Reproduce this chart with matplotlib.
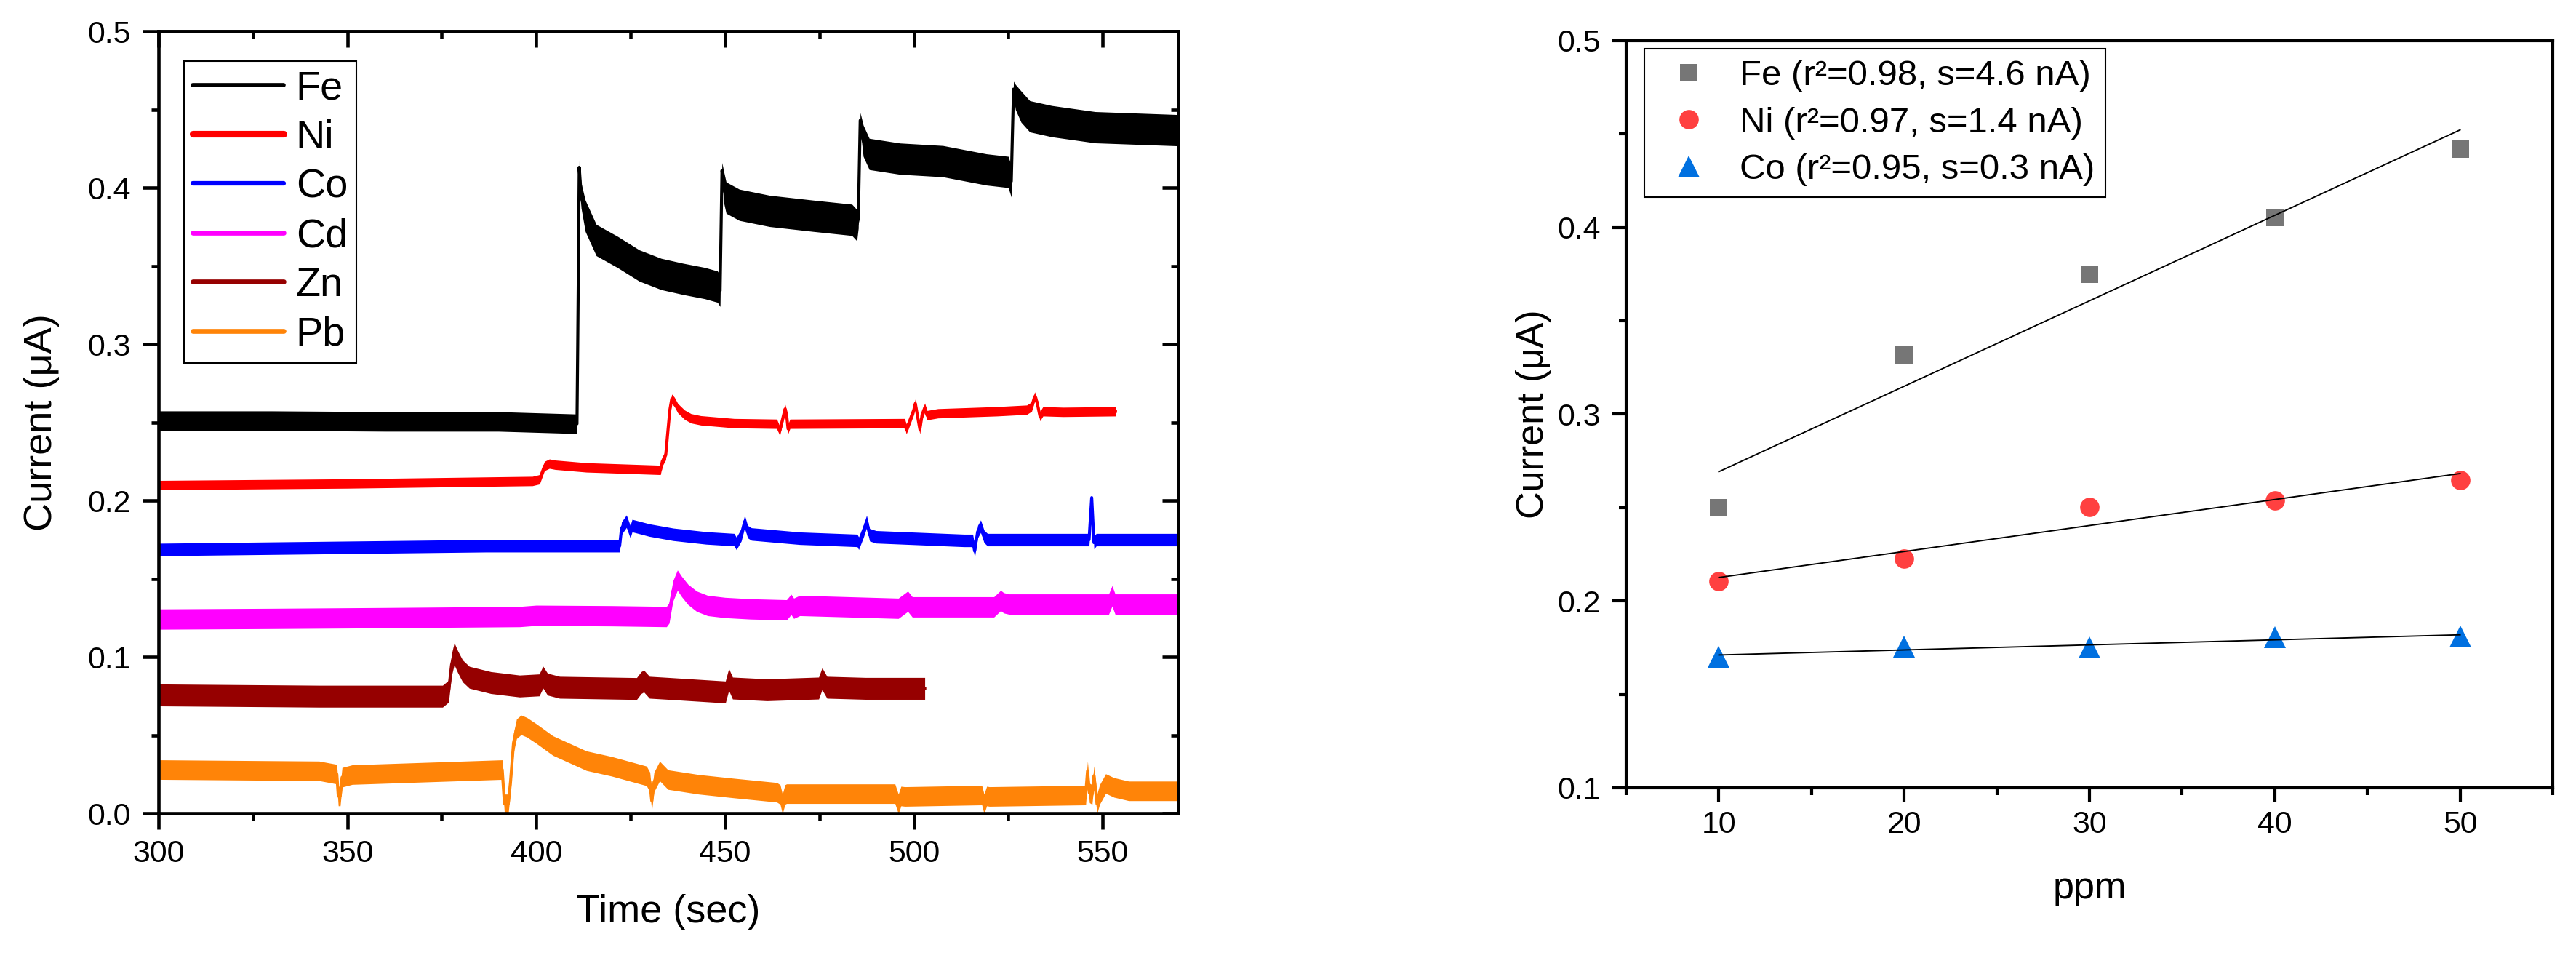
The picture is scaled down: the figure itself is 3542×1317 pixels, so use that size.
import numpy as np
import matplotlib
matplotlib.use('Agg')
import matplotlib.pyplot as plt
from matplotlib.lines import Line2D
from matplotlib.ticker import MultipleLocator, FormatStrFormatter

plt.rcParams['font.family'] = ['Liberation Sans', 'DejaVu Sans']

# ---------------- left panel: current vs time (key points) ----------------
fe_t = [300, 330, 360, 390, 410.8, 411.0, 411.4, 411.9, 413.0, 415.9, 421.6, 427.3, 433.1, 438.8,
        444.6, 448.0, 448.7, 449.2, 449.7, 450.3, 453.8, 461.8, 473.3, 483.6, 484.9, 485.3, 485.8,
        486.6, 488.2, 496.3, 507.7, 519.2, 525.0, 525.8, 526.4, 526.9, 528.4, 530.7, 536.5, 548, 570]
fe_v = [0.251, 0.251, 0.2505, 0.2505, 0.249, 0.30, 0.413, 0.395, 0.382, 0.3665, 0.3588, 0.3502,
        0.3448, 0.3417, 0.339, 0.3367, 0.334, 0.411, 0.40, 0.3936, 0.389, 0.3851, 0.382, 0.3794,
        0.376, 0.380, 0.443, 0.430, 0.4215, 0.4185, 0.4169, 0.4116, 0.410, 0.404, 0.463, 0.458,
        0.4518, 0.4456, 0.4425, 0.4386, 0.4367]
fe_noise = [0.0125, 0.0125, 0.0125, 0.0125, 0.0125, 0.010, 0.008, 0.016, 0.02, 0.02, 0.02, 0.02,
            0.02, 0.02, 0.02, 0.02, 0.02, 0.010, 0.02, 0.02, 0.02, 0.02, 0.02, 0.02,
            0.02, 0.012, 0.010, 0.02, 0.02, 0.02, 0.02, 0.02, 0.02, 0.02, 0.010, 0.016,
            0.02, 0.02, 0.02, 0.02, 0.02]

ni_t = [300, 350, 399, 400.9, 402.2, 403.5, 405, 413.3, 432.9, 433.4, 434.3, 434.9, 435.4, 435.9,
        436.6, 437.5, 439.3, 441, 443.6, 452.4, 463.7, 464.5, 465.3, 465.9, 466.3, 466.7, 467.2,
        497.6, 498.0, 498.6, 500.0, 500.4, 500.9, 501.6, 502.2, 502.9, 503.5, 506.4, 522, 529.9,
        531.2, 532.0, 532.6, 533.4, 534.2, 539.5, 553.4]
ni_v = [0.2098, 0.2108, 0.2124, 0.2135, 0.222, 0.2235, 0.2228, 0.2211, 0.2195, 0.225, 0.229, 0.245,
        0.258, 0.265, 0.263, 0.259, 0.2548, 0.2525, 0.2512, 0.2494, 0.249, 0.2445, 0.2525, 0.2585,
        0.255, 0.2458, 0.249, 0.2494, 0.2455, 0.249, 0.258, 0.262, 0.255, 0.2455, 0.255, 0.2593,
        0.2545, 0.2557, 0.257, 0.258, 0.260, 0.2664, 0.263, 0.2539, 0.257, 0.2566, 0.257]
ni_noise = 0.006

co_t = [300, 386.7, 422.1, 422.6, 423.9, 424.9, 425.4, 430, 436.3, 445, 452.4, 453.0, 454.3, 455.2,
        456.0, 457, 469.8, 485.0, 485.4, 486.6, 487.5, 488.3, 490, 513.3, 515.6, 516.1, 516.9,
        517.7, 518.6, 519.5, 546.4, 547.1, 547.7, 548.3, 570]
co_v = [0.1686, 0.171, 0.171, 0.1823, 0.1867, 0.180, 0.1839, 0.181, 0.1783, 0.176, 0.1749, 0.1725,
        0.178, 0.1865, 0.180, 0.1785, 0.1758, 0.1744, 0.1726, 0.180, 0.1865, 0.178, 0.1767, 0.1744,
        0.1744, 0.1676, 0.180, 0.1835, 0.177, 0.1749, 0.1749, 0.2018, 0.173, 0.1749, 0.1749]
co_noise = 0.008

cd_t = [300, 330, 360, 395.6, 400, 420, 434.5, 435.2, 436.2, 437.4, 438.5, 440.2, 442.5, 445.4,
        450, 456.7, 466.3, 467.5, 468.2, 469.8, 495.9, 498.4, 499.6, 521.2, 523.0, 523.8, 525.2,
        551.6, 552.5, 553.3, 570]
cd_v = [0.1241, 0.1245, 0.125, 0.1257, 0.1265, 0.1262, 0.1257, 0.128, 0.142, 0.149, 0.145, 0.1399,
        0.1355, 0.1328, 0.1315, 0.1306, 0.130, 0.1335, 0.131, 0.1328, 0.131, 0.1355, 0.1319,
        0.1319, 0.136, 0.1345, 0.1337, 0.1337, 0.139, 0.1337, 0.1337]
cd_noise = 0.013

zn_t = [300, 342.5, 375.2, 376.8, 377.6, 378.3, 379.2, 380.5, 382.3, 388, 395.6, 400.8, 401.8, 403,
        406.2, 426.6, 427.8, 428.5, 430, 434.9, 450.1, 451.0, 452, 461.1, 474.8, 475.7, 477,
        487.2, 502.9]
zn_v = [0.0756, 0.0748, 0.0748, 0.078, 0.095, 0.102, 0.097, 0.091, 0.0869, 0.0835, 0.0813, 0.082,
        0.087, 0.0825, 0.0805, 0.0797, 0.0835, 0.0845, 0.0805, 0.0798, 0.0775, 0.0855, 0.0800,
        0.0789, 0.0800, 0.086, 0.0805, 0.0798, 0.0798]
zn_noise = 0.014

pb_t = [300, 342.5, 347.2, 347.6, 348.1, 348.6, 351.3, 391.0, 391.6, 392.6, 393.2, 394.0, 394.8,
        396.0, 397.5, 400, 404.4, 413.3, 420, 429.2, 430.1, 430.6, 431.2, 432.7, 434.9, 443, 452.4,
        463.7, 464.6, 465.2, 465.9, 466.3, 495.0, 495.9, 496.6, 497.6, 518.0, 518.6, 519.3, 520.0,
        545.5, 546.0, 546.5, 547.2, 547.7, 548.2, 548.5, 549.2, 550.8, 553, 556.9, 570]
pb_v = [0.0279, 0.0271, 0.025, 0.011, 0.011, 0.023, 0.0247, 0.0279, 0.006, 0.006, 0.02, 0.045,
        0.054, 0.0565, 0.055, 0.051, 0.0433, 0.0336, 0.030, 0.0239, 0.020, 0.008, 0.020, 0.027,
        0.0215, 0.0185, 0.0161, 0.0134, 0.012, 0.006, 0.012, 0.0125, 0.0125, 0.006, 0.011, 0.0107,
        0.0116, 0.006, 0.011, 0.0107, 0.0116, 0.027, 0.013, 0.012, 0.024, 0.013, 0.006, 0.012,
        0.019, 0.0165, 0.0143, 0.0143]
pb_noise = 0.0125

trace_names = ['Fe', 'Ni', 'Co', 'Cd', 'Zn', 'Pb']
trace_colors = ['#000000', '#FF0000', '#0000FF', '#FF00FF', '#960000', '#FF8408']

# ---------------- right panel: calibration ----------------
ppm = [10, 20, 30, 40, 50]
fe_cal = [0.2498, 0.3319, 0.3748, 0.4054, 0.4418]
ni_cal = [0.2106, 0.2226, 0.2505, 0.2538, 0.2646]
co_cal = [0.1702, 0.1754, 0.1751, 0.1808, 0.1810]
cal_labels = ['Fe (r\u00b2=0.98, s=4.6 nA)', 'Ni (r\u00b2=0.97, s=1.4 nA)', 'Co (r\u00b2=0.95, s=0.3 nA)']
cal_colors = ['#767676', '#FF4040', '#0070E0']
cal_markers = ['s', 'o', '^']
cal_msize = [5.8, 6.4, 7.3]

fig = plt.figure(figsize=(3542 / 300, 1317 / 300), dpi=300)
ax1 = fig.add_axes([0.06155, 0.1511, 0.39582, 0.81625])
ax2 = fig.add_axes([0.63128, 0.17768, 0.35969, 0.7798])

series = [(fe_t, fe_v, fe_noise), (ni_t, ni_v, ni_noise), (co_t, co_v, co_noise),
          (cd_t, cd_v, cd_noise), (zn_t, zn_v, zn_noise), (pb_t, pb_v, pb_noise)]
for (t, v, n), c in zip(series, trace_colors):
    t = np.asarray(t, float)
    v = np.asarray(v, float)
    n = np.asarray(n, float)
    ax1.fill_between(t, v - n / 2, v + n / 2, color=c, lw=0, zorder=2)
    ax1.plot(t, v, color=c, lw=1.0, solid_joinstyle='round', zorder=2)

ax1.set_xlim(300, 570)
ax1.set_ylim(0, 0.5)
ax1.xaxis.set_major_locator(MultipleLocator(50))
ax1.xaxis.set_minor_locator(MultipleLocator(25))
ax1.yaxis.set_major_locator(MultipleLocator(0.1))
ax1.yaxis.set_minor_locator(MultipleLocator(0.05))
ax1.yaxis.set_major_formatter(FormatStrFormatter('%.1f'))
ax1.tick_params(which='both', direction='out', width=1.1, labelsize=10.3)
ax1.tick_params(which='major', length=5.3)
ax1.tick_params(which='minor', length=2.4)
ax1.tick_params(axis='x', pad=3.4)
ax1.tick_params(axis='y', pad=3.8)
for s in ax1.spines.values():
    s.set_linewidth(1.1)

secx = ax1.secondary_xaxis('top')
secx.xaxis.set_major_locator(MultipleLocator(50))
secx.xaxis.set_minor_locator(MultipleLocator(25))
secx.tick_params(which='both', direction='in', width=1.1, labeltop=False)
secx.tick_params(which='major', length=5.3)
secx.tick_params(which='minor', length=2.4)
secx.spines['top'].set_linewidth(1.1)
secy = ax1.secondary_yaxis('right')
secy.yaxis.set_major_locator(MultipleLocator(0.1))
secy.yaxis.set_minor_locator(MultipleLocator(0.05))
secy.tick_params(which='both', direction='in', width=1.1, labelright=False)
secy.tick_params(which='major', length=5.3)
secy.tick_params(which='minor', length=2.4)
secy.spines['right'].set_linewidth(1.1)

ax1.set_xlabel('Time (sec)', fontsize=13)
ax1.set_ylabel('Current (\u03bcA)', fontsize=13)
ax1.xaxis.set_label_coords(0.5, -0.103)
ax1.yaxis.set_label_coords(-0.097, 0.5)

leg_lw = [1.36, 2.2, 1.5, 1.6, 1.6, 1.6]
handles1 = [Line2D([], [], color=c, lw=w, solid_capstyle='round') for c, w in zip(trace_colors, leg_lw)]
leg1 = ax1.legend(handles1, trace_names, loc='upper left', bbox_to_anchor=(0.0247, 0.9619),
                  borderaxespad=0, fontsize=13.4, handlelength=2.24, handletextpad=0.30,
                  borderpad=0.22, labelspacing=0.28, fancybox=False, edgecolor='black',
                  framealpha=1)
leg1.get_frame().set_linewidth(0.5)

# right panel
for y, c, m, ms in zip([fe_cal, ni_cal, co_cal], cal_colors, cal_markers, cal_msize):
    ax2.plot(ppm, y, linestyle='none', marker=m, color=c, markersize=ms, markeredgewidth=0, zorder=2)
    k, b = np.polyfit(ppm, y, 1)
    xs = np.array([ppm[0], ppm[-1]], float)
    ax2.plot(xs, k * xs + b, color='black', lw=0.45, zorder=3)

ax2.set_xlim(5, 55)
ax2.set_ylim(0.1, 0.5)
ax2.xaxis.set_major_locator(MultipleLocator(10))
ax2.xaxis.set_minor_locator(MultipleLocator(5))
ax2.yaxis.set_major_locator(MultipleLocator(0.1))
ax2.yaxis.set_minor_locator(MultipleLocator(0.05))
ax2.yaxis.set_major_formatter(FormatStrFormatter('%.1f'))
ax2.tick_params(which='both', direction='out', width=1.0, labelsize=10.3)
ax2.tick_params(which='major', length=4.8)
ax2.tick_params(which='minor', length=2.4)
ax2.tick_params(axis='x', pad=2.6)
ax2.tick_params(axis='y', pad=3.6)
for s in ax2.spines.values():
    s.set_linewidth(1.0)
ax2.set_xlabel('ppm', fontsize=12.5)
ax2.set_ylabel('Current (\u03bcA)', fontsize=12.5)
ax2.xaxis.set_label_coords(0.5, -0.111)
ax2.yaxis.set_label_coords(-0.081, 0.5)

handles2 = [Line2D([], [], linestyle='none', marker=m, color=c, markersize=ms, markeredgewidth=0)
            for c, m, ms in zip(cal_colors, cal_markers, cal_msize)]
leg2 = ax2.legend(handles2, cal_labels, loc='upper left', bbox_to_anchor=(0.0194, 0.9896),
                  borderaxespad=0, fontsize=11.8, handlelength=1.86, handletextpad=0.50,
                  borderpad=0.31, labelspacing=0.40, numpoints=1, fancybox=False,
                  edgecolor='black', framealpha=1)
leg2.get_frame().set_linewidth(0.5)

fig.savefig('out.png', dpi=300)
